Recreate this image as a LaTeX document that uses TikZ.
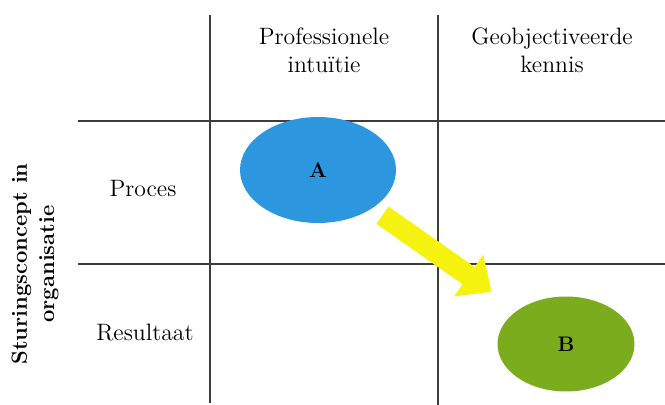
\documentclass[tikz,border=0pt]{standalone}
\usepackage{tikz}
\usetikzlibrary{arrows.meta,calc,shapes.geometric}
\definecolor{ellblue}{RGB}{44,150,222}
\definecolor{ellgreen}{RGB}{122,172,30}
\definecolor{arrowyellow}{RGB}{245,242,15}
\definecolor{gridgray}{RGB}{60,60,60}

\begin{document}
\begin{tikzpicture}[x=0.02cm, y=-0.02cm, every node/.style={font=\fontsize{13.5}{16}\selectfont}] % Matrix
	\useasboundingbox (0,0) rectangle (665,405);
	\tikzset{gridline/.style={gridgray, line width=1pt},
		cell/.style={ellipse, draw=none, inner sep=0pt, font=\fontsize{12}{14}\selectfont\bfseries},
		headtext/.style={align=center}}
	% Grid
	\draw[gridline] (210,15) -- (210,403);
	\draw[gridline] (438,15) -- (438,405);
	\draw[gridline] (78,121) -- (665,121);
	\draw[gridline] (78,264) -- (665,264);
	% Column and row labels
	\node[headtext] (colone) at (324,50) {Professionele\\intuïtie};
	\node[headtext] (coltwo) at (552,50) {Geobjectiveerde\\kennis};
	\node (rowone) at (143,189) {Proces};
	\node (rowtwo) at (145,333) {Resultaat};
	\node[rotate=90, align=center, font=\fontsize{12.5}{15.5}\selectfont\bfseries] (axis) at (35,264) {Sturingsconcept in\\organisatie};
	% Ellipses
	\node[cell, fill=ellblue, minimum width=3.12cm, minimum height=2.12cm] (A) at (318,170) {A};
	\node[cell, fill=ellgreen, minimum width=2.74cm, minimum height=1.9cm] (B) at (566,344) {B};
	% Arrow
	\draw[arrowyellow, line width=12pt, -{Triangle[width=28pt, length=16pt]}] ($(A)!0.26!(B)$) -- ($(A)!0.70!(B)$);
\end{tikzpicture}
\end{document}
